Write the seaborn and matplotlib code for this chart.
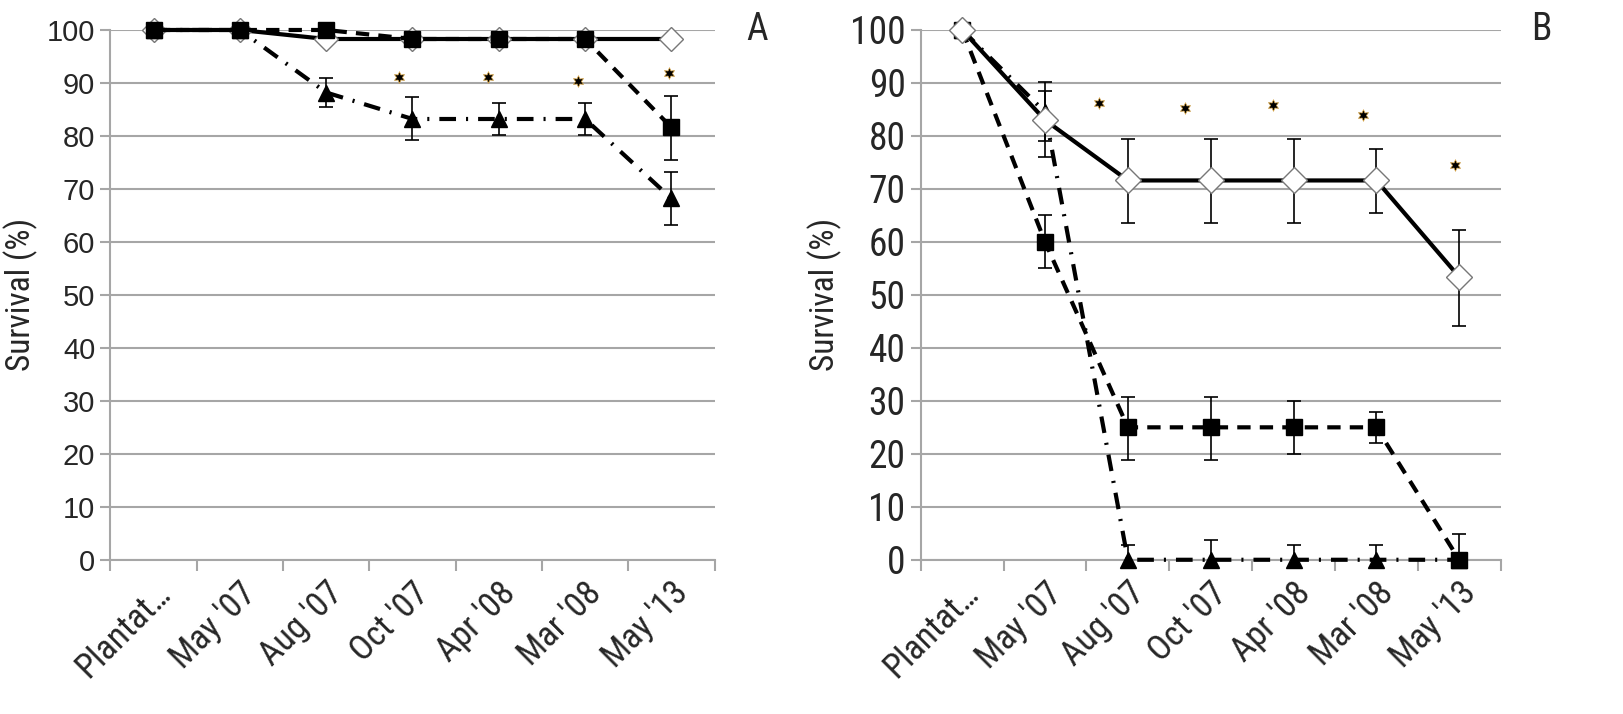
import matplotlib
matplotlib.use('Agg')
from matplotlib import font_manager
import matplotlib.pyplot as plt
import seaborn as sns
import numpy as np
import pandas as pd

dates = ['Plantat…', "May '07", "Aug '07", "Oct '07", "Apr '08", "Mar '08", "May '13"]

# panel A
a_diamond = [100, 100, 98.3, 98.3, 98.3, 98.3, 98.3]
a_square = [100, 100, 100, 98.3, 98.3, 98.3, 81.6]
a_square_lo = [np.nan] * 6 + [75.5]
a_square_hi = [np.nan] * 6 + [87.6]
a_triangle = [100, 100, 88.2, 83.2, 83.2, 83.2, 68.2]
a_triangle_lo = [np.nan, np.nan, 85.4, 79.3, 80.1, 80.1, 63.2]
a_triangle_hi = [np.nan, np.nan, 91.0, 87.4, 86.2, 86.2, 73.2]
a_star_x = [2.84, 3.88, 4.92, 5.97]
a_star_y = [91.2, 91.2, 90.3, 91.9]

# panel B
b_diamond = [100, 83.0, 71.6, 71.6, 71.6, 71.6, 53.4]
b_diamond_lo = [np.nan, 76.1, 63.5, 63.5, 63.5, 65.5, 44.2]
b_diamond_hi = [np.nan, 90.2, 79.5, 79.5, 79.5, 77.5, 62.3]
b_square = [100, 60, 25, 25, 25, 25, 0]
b_square_lo = [np.nan, 55, 18.8, 18.8, 20, 22, np.nan]
b_square_hi = [np.nan, 65, 30.8, 30.8, 30, 27.9, 4.9]
b_triangle = [100, 84.5, 0, 0, 0, 0, 0]
b_triangle_lo = [np.nan, 79.0, np.nan, np.nan, np.nan, np.nan, np.nan]
b_triangle_hi = [np.nan, 88.5, 2.8, 3.7, 2.8, 2.8, np.nan]
b_star_x = [1.65, 2.69, 3.75, 4.84, 5.95]
b_star_y = [86.3, 85.2, 85.8, 84.0, 74.5]

sns.set_theme(style='white')
names = {f.name for f in font_manager.fontManager.ttflist}
narrow = 'DejaVu Sans'
for cand in ['Liberation Sans Narrow', 'Roboto Condensed', 'DejaVu Sans Condensed',
             'Open Sans Condensed', 'Noto Sans Condensed', 'Roboto']:
    if cand in names:
        narrow = cand
        break
plt.rcParams['font.family'] = [narrow, 'DejaVu Sans']
plt.rcParams['font.stretch'] = 'condensed'

fig = plt.figure(figsize=(16.24, 7.14), dpi=100)
axA = fig.add_axes([0.068, 0.216, 0.372, 0.742])
axB = fig.add_axes([0.567, 0.216, 0.357, 0.742])

x = np.arange(len(dates))
grey = '#a6a6a6'
dashed = (0, (3.2, 2.2))
dashdot = (0, (4, 2.4, 0.5, 2.4))
star = (6, 1, 0)


def err(ax, vals, lo, hi):
    vals = np.array(vals, dtype=float)
    lo = np.array(lo, dtype=float)
    hi = np.array(hi, dtype=float)
    lower = np.where(np.isnan(lo), 0, vals - lo)
    upper = np.where(np.isnan(hi), 0, hi - vals)
    m = ~(np.isnan(lo) & np.isnan(hi))
    ax.errorbar(x[m], vals[m], yerr=[lower[m], upper[m]], fmt='none',
                ecolor='black', elinewidth=1.2, capsize=5, capthick=1.2, zorder=2)


def series(ax, vals, ls, marker, mfc, mec, ms, z):
    sns.lineplot(x=x, y=vals, ax=ax, color='black', linestyle=ls, lw=3,
                 marker=marker, markersize=ms, markerfacecolor=mfc,
                 markeredgecolor=mec, markeredgewidth=1, zorder=z, clip_on=False)


def style(ax, label, wide_ticks):
    ax.set_xlim(-0.5, 6.5)
    ax.set_ylim(0, 100)
    ax.set_yticks(range(0, 101, 10))
    ax.set_xticks(x)
    ax.set_xticklabels(dates, rotation=45, ha='right', rotation_mode='anchor',
                       fontsize=25)
    ax.set_xticks(np.arange(-0.5, 7, 1), minor=True)
    ax.tick_params(axis='x', which='major', length=0, pad=12)
    ax.tick_params(axis='x', which='minor', length=8, width=1.5, color=grey,
                   direction='out', bottom=True)
    ax.tick_params(axis='y', length=7, width=1.5, color=grey, left=True,
                   labelsize=27, pad=4)
    if wide_ticks:
        for t in ax.get_yticklabels():
            t.set_family(['Liberation Sans', 'DejaVu Sans'])
            t.set_stretch('normal')
            t.set_fontsize(21)
    ax.grid(axis='y', color=grey, lw=1.5)
    ax.grid(axis='x', visible=False)
    ax.set_axisbelow(True)
    for s in ['top', 'right']:
        ax.spines[s].set_visible(False)
    for s in ['left', 'bottom']:
        ax.spines[s].set_color(grey)
        ax.spines[s].set_linewidth(1.5)
    ax.set_xlabel('')
    ax.set_ylabel('Survival (%)', fontsize=24, labelpad=6)
    ax.text(1.07, 1.0, label, transform=ax.transAxes, fontsize=27,
            ha='center', va='center')


# panel A
series(axA, a_diamond, '-', 'D', 'white', '#777777', 12, 3)
series(axA, a_triangle, dashdot, '^', 'black', 'black', 12, 4)
series(axA, a_square, dashed, 's', 'black', 'black', 11, 5)
err(axA, a_square, a_square_lo, a_square_hi)
err(axA, a_triangle, a_triangle_lo, a_triangle_hi)
sns.scatterplot(x=a_star_x, y=a_star_y, ax=axA, marker=star, s=70,
                color='black', edgecolor='#d9a441', linewidth=0.5, zorder=6)
style(axA, 'A', True)

# panel B
series(axB, b_square, dashed, 's', 'black', 'black', 11, 3)
series(axB, b_triangle, dashdot, '^', 'black', 'black', 12, 4)
series(axB, b_diamond, '-', 'D', 'white', '#777777', 13, 5)
err(axB, b_diamond, b_diamond_lo, b_diamond_hi)
err(axB, b_square, b_square_lo, b_square_hi)
err(axB, b_triangle, b_triangle_lo, b_triangle_hi)
sns.scatterplot(x=b_star_x, y=b_star_y, ax=axB, marker=star, s=70,
                color='black', edgecolor='#d9a441', linewidth=0.5, zorder=6)
style(axB, 'B', False)

fig.savefig('out.png', dpi=100)
